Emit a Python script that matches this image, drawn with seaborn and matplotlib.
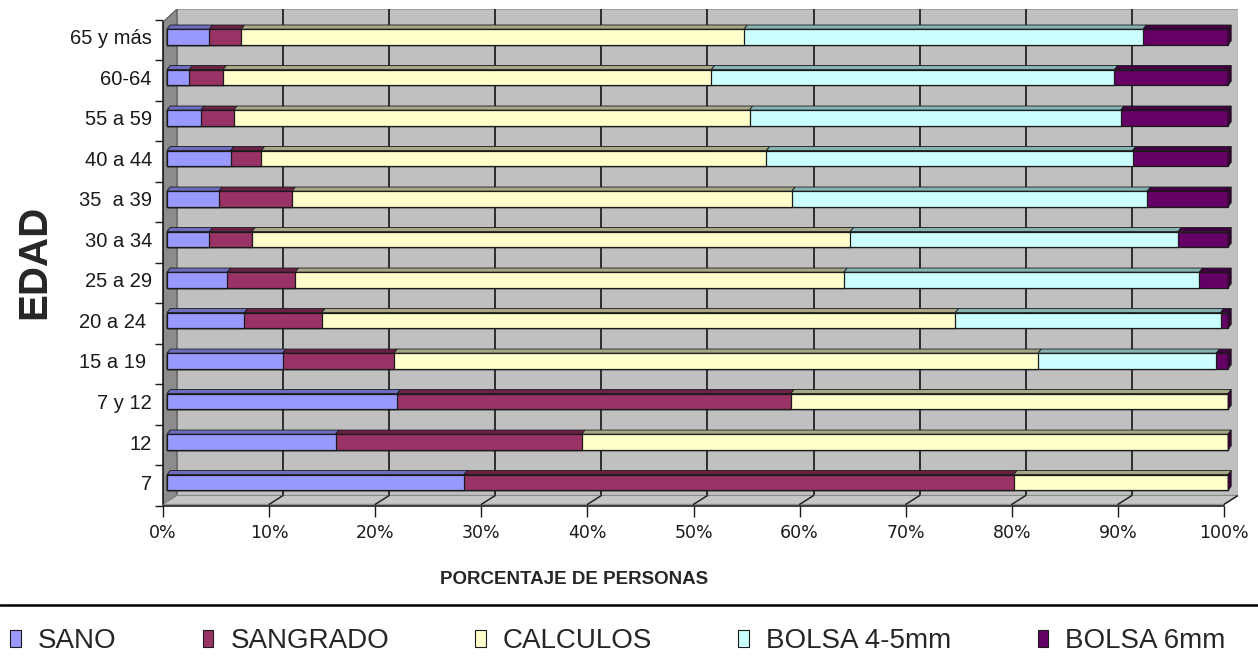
import matplotlib
matplotlib.use("Agg")
import matplotlib.pyplot as plt
import numpy as np
import pandas as pd
import seaborn as sns
from matplotlib.patches import Polygon, Patch
from matplotlib.lines import Line2D

# datos (porcentaje por grupo de edad)
edad = ['65 y más', '60-64', '55 a 59', '40 a 44', '35  a 39', '30 a 34',
        '25 a 29', '20 a 24 ', '15 a 19 ', '7 y 12', '12', '7']
sano = [4.0, 2.1, 3.2, 6.0, 4.9, 4.0, 5.7, 7.3, 10.9, 21.7, 15.9, 28.0]
sangrado = [3.0, 3.2, 3.1, 2.9, 6.9, 4.0, 6.4, 7.3, 10.5, 37.1, 23.2, 51.8]
calculos = [47.4, 46.0, 48.6, 47.6, 47.1, 56.4, 51.7, 59.7, 60.7, 41.2, 60.9, 20.2]
bolsa45 = [37.6, 38.0, 35.0, 34.5, 33.5, 30.9, 33.5, 25.0, 16.8, 0, 0, 0]
bolsa6 = [8.0, 10.7, 10.1, 9.0, 7.6, 4.7, 2.7, 0.7, 1.1, 0, 0, 0]

series = ['SANO', 'SANGRADO', 'CALCULOS', 'BOLSA 4-5mm', 'BOLSA 6mm']
pct_ticks = np.arange(0, 101, 10)

front = ['#9999ff', '#993366', '#ffffcc', '#ccffff', '#660066']
top = ['#6e6ec0', '#6a2145', '#a8a888', '#86b4b4', '#420042']

df = pd.DataFrame({'SANO': sano, 'SANGRADO': sangrado, 'CALCULOS': calculos,
                   'BOLSA 4-5mm': bolsa45, 'BOLSA 6mm': bolsa6}, index=edad)
cum = df[series].cumsum(axis=1)

sns.set_style('white')
plt.rcParams['font.family'] = ['Liberation Sans', 'DejaVu Sans']

W, H = 1258, 656
fig = plt.figure(figsize=(W / 100, H / 100), dpi=100)
ax = fig.add_axes([163 / W, 1 - 506 / H, (1238 - 163) / W, (506 - 9) / H])

# geometria del efecto 3D (en unidades de datos)
x_front = -0.377
x_back = 0.94
y_top, y_bot, y_floor = -0.69, 11.54, 11.32
bar_h = 0.39
dx, dy = 0.3, 0.1

# capas acumuladas, de la mayor a la menor
for i in reversed(range(len(series))):
    sns.barplot(x=cum[series[i]].values, y=edad, orient='h', color=front[i],
                saturation=1, width=bar_h, edgecolor='#1a1a1a', linewidth=0.9,
                errorbar=None, ax=ax, zorder=3)

# caras superiores y lateral derecha
for k in range(len(edad)):
    prev = 0
    for i, s in enumerate(series):
        x1 = cum.iloc[k][s]
        if x1 - prev > 0.01:
            yt = k - bar_h / 2
            ax.add_patch(Polygon([(prev, yt), (x1, yt), (x1 + dx, yt - dy), (prev + dx, yt - dy)],
                                 closed=True, fc=top[i], ec='#1a1a1a', lw=0.6, zorder=3))
        prev = x1
    end = cum.iloc[k][series[-1]]
    ax.add_patch(Polygon([(end, k - bar_h / 2), (end + dx, k - bar_h / 2 - dy),
                          (end + dx, k + bar_h / 2 - dy), (end, k + bar_h / 2)],
                         closed=True, fc='#3a003a', ec='#1a1a1a', lw=0.6, zorder=3))

# pared del fondo, pared izquierda, piso
ax.add_patch(Polygon([(x_back, y_top), (100.94, y_top), (100.94, y_floor), (x_back, y_floor)],
                     closed=True, fc='#c0c0c0', ec='#a0a0a0', lw=0.8, zorder=0))
for v in pct_ticks[1:-1]:
    ax.plot([v + x_back, v + x_back], [y_floor, y_top], color='#222222', lw=1.3, zorder=0.5)
ax.add_patch(Polygon([(x_front, y_bot), (x_front, -0.37), (x_back, y_top), (x_back, y_floor)],
                     closed=True, fc='#8c8c8c', ec='#555555', lw=0.8, zorder=0.6))
ax.add_patch(Polygon([(x_front, y_bot), (x_back, y_floor), (100.94, y_floor), (99.62, y_bot)],
                     closed=True, fc='#c6c6c6', ec='#8a8a8a', lw=0.8, zorder=0.6))
for v in pct_ticks[1:]:
    ax.plot([v + x_front, v + x_back], [y_bot, y_floor], color='#222222', lw=1.1, zorder=0.7)

ax.set_xlim(x_front, 100.94)
ax.set_ylim(y_bot, y_top)
ax.set_xlabel('')
ax.set_ylabel('')
ax.set_facecolor('white')

for s in ['top', 'right']:
    ax.spines[s].set_visible(False)
ax.spines['left'].set_bounds(y_bot, -0.37)
ax.spines['bottom'].set_bounds(x_front, 100 + x_front)
for s in ['left', 'bottom']:
    ax.spines[s].set_color('#1a1a1a')
    ax.spines[s].set_linewidth(1.2)
    ax.spines[s].set_zorder(4)

ax.set_yticks(range(len(edad)))
ax.set_yticklabels(edad)
ax.set_yticks(np.arange(len(edad) + 1) - 0.5 + 0.08, minor=True)
ax.tick_params(axis='y', which='major', length=0, pad=8, labelsize=14.5, labelcolor='#1a1a1a')
ax.tick_params(axis='y', which='minor', length=6, width=1, direction='out', color='#1a1a1a', left=True)

ax.set_xticks(pct_ticks + x_front)
ax.set_xticklabels([f'{v}%' for v in pct_ticks])
ax.tick_params(axis='x', length=8, width=1, direction='out', pad=5, labelsize=12.5,
               labelcolor='#1a1a1a', color='#1a1a1a', bottom=True, labelfontfamily='DejaVu Sans')

fig.text(34 / W, 1 - 262 / H, 'EDAD', rotation=90, fontsize=29, fontweight='bold',
         ha='center', va='center')
fig.text(574 / W, 1 - 580 / H, 'PORCENTAJE DE PERSONAS', fontsize=13.5, fontweight='bold',
         ha='center', va='center')

fig.add_artist(Line2D([0, 1], [1 - 605 / H, 1 - 605 / H], color='black', lw=1.8,
                      transform=fig.transFigure))

handles = [Patch(facecolor=c, edgecolor='#1a1a1a', linewidth=0.8) for c in front]
fig.legend(handles, series, loc='center left', bbox_to_anchor=(10 / W, 1 - 641 / H),
           ncol=5, frameon=False, fontsize=20, handlelength=0.38, handleheight=0.55,
           handletextpad=0.62, columnspacing=3.1, borderpad=0, borderaxespad=0)

fig.savefig('out.png', dpi=100)
